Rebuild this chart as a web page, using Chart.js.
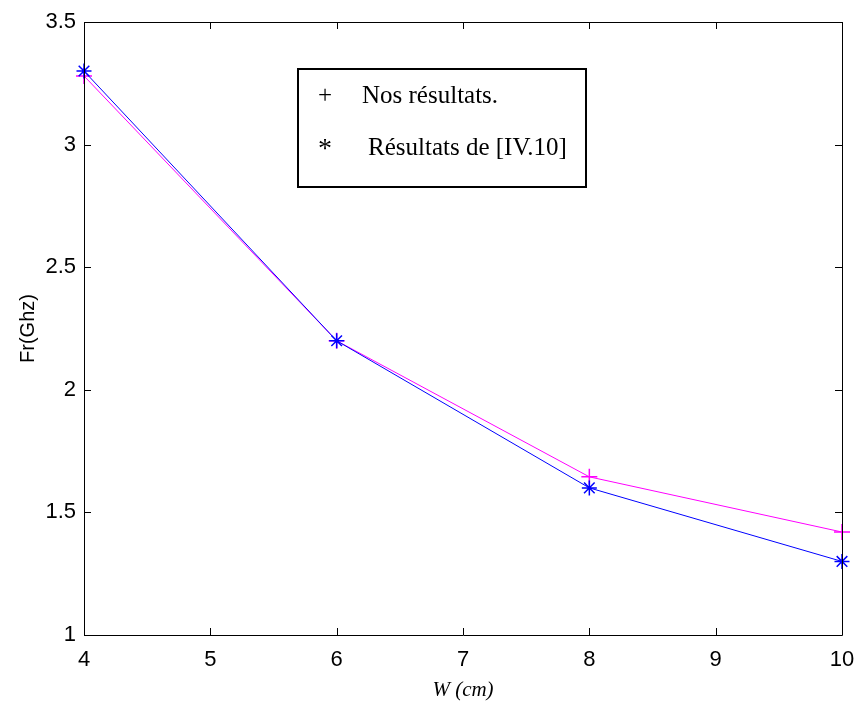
<!DOCTYPE html>
<html>
<head>
<meta charset="utf-8">
<script src="https://cdn.jsdelivr.net/npm/chart.js@4"></script>
<style>
  html, body { margin: 0; padding: 0; background: #fff; }
</style>
</head>
<body>
<canvas id="chart" width="859" height="709"></canvas>
<script>
// W (cm) and resonant frequency Fr (GHz)
const widths = [4, 6, 8, 10];
const ourResults = [3.28, 2.2, 1.645, 1.42];
const refResults = [3.3, 2.2, 1.6, 1.3];
const xTicks = [4, 5, 6, 7, 8, 9, 10];
const yTicks = [1, 1.5, 2, 2.5, 3, 3.5];
const legendLabels = ["Nos résultats.", "Résultats de [IV.10]"];
const legendMarks = ["+", "*"];

const toPoints = (vals) => widths.map((w, i) => ({ x: w, y: vals[i] }));

// Box around the plot with inward ticks on all four sides
const frameTicks = {
  id: "frameTicks",
  afterDraw(chart) {
    const { ctx, chartArea, scales } = chart;
    const { left, right, top, bottom } = chartArea;
    const len = 7;
    ctx.save();
    ctx.strokeStyle = "#000";
    ctx.lineWidth = 1;
    ctx.beginPath();
    ctx.rect(left + 0.5, top + 0.5, right - left, bottom - top);
    xTicks.forEach((v) => {
      const px = Math.round(scales.x.getPixelForValue(v)) + 0.5;
      ctx.moveTo(px, bottom);
      ctx.lineTo(px, bottom - len);
      ctx.moveTo(px, top);
      ctx.lineTo(px, top + len);
    });
    yTicks.forEach((v) => {
      const py = Math.round(scales.y.getPixelForValue(v)) + 0.5;
      ctx.moveTo(left, py);
      ctx.lineTo(left + len, py);
      ctx.moveTo(right, py);
      ctx.lineTo(right - len, py);
    });
    ctx.stroke();
    ctx.restore();
  },
};

// Old style boxed legend with black marker characters
const boxLegend = {
  id: "boxLegend",
  afterDraw(chart) {
    const { ctx } = chart;
    const bx = 298, by = 69, bw = 288, bh = 118;
    ctx.save();
    ctx.fillStyle = "#fff";
    ctx.fillRect(bx, by, bw, bh);
    ctx.strokeStyle = "#000";
    ctx.lineWidth = 2;
    ctx.strokeRect(bx, by, bw, bh);
    ctx.fillStyle = "#000";
    ctx.textBaseline = "middle";
    const rows = [96, 148];
    const textX = [362, 368];
    legendLabels.forEach((label, i) => {
      ctx.font = (i === 1 ? "28px" : "25px") + " 'Liberation Serif', 'Times New Roman', serif";
      ctx.textAlign = "center";
      ctx.fillText(legendMarks[i], 325, rows[i] + (i === 1 ? 2 : 0));
      ctx.font = "25px 'Liberation Serif', 'Times New Roman', serif";
      ctx.textAlign = "left";
      ctx.fillText(label, textX[i], rows[i]);
    });
    ctx.restore();
  },
};

const tickFont = { family: "'Liberation Sans', Arial, sans-serif", size: 22 };

new Chart(document.getElementById("chart"), {
  type: "scatter",
  data: {
    datasets: [
      {
        label: legendLabels[0],
        data: toPoints(ourResults),
        showLine: true,
        borderColor: "#ff00ff",
        borderWidth: 1,
        pointStyle: "cross",
        pointRadius: 8,
        pointBorderColor: "#ff00ff",
        pointBorderWidth: 1.5,
        order: 2,
      },
      {
        label: legendLabels[1],
        data: toPoints(refResults),
        showLine: true,
        borderColor: "#0000ff",
        borderWidth: 1,
        pointStyle: "star",
        pointRadius: 7.5,
        pointBorderColor: "#0000ff",
        pointBorderWidth: 1.5,
        order: 1,
      },
    ],
  },
  options: {
    responsive: false,
    animation: false,
    clip: false,
    layout: { padding: { top: 22, right: 17, left: 0, bottom: 0 } },
    plugins: {
      legend: { display: false },
      tooltip: { enabled: false },
    },
    scales: {
      x: {
        type: "linear",
        min: 4,
        max: 10,
        afterBuildTicks: (scale) => {
          scale.ticks = xTicks.map((v) => ({ value: v }));
        },
        afterFit: (scale) => {
          scale.height = 74;
          scale.paddingLeft = 0;
          scale.paddingRight = 0;
        },
        grid: { display: false, drawTicks: false },
        border: { display: false },
        ticks: { color: "#000", font: tickFont, padding: 12, maxRotation: 0, callback: (v) => String(v) },
        title: {
          display: true,
          text: "W (cm)",
          color: "#000",
          font: { family: "'Liberation Serif', 'Times New Roman', serif", size: 21, style: "italic" },
          padding: { top: 0, bottom: 6 },
        },
      },
      y: {
        type: "linear",
        min: 1,
        max: 3.5,
        afterBuildTicks: (scale) => {
          scale.ticks = yTicks.map((v) => ({ value: v }));
        },
        afterFit: (scale) => {
          scale.width = 84;
          scale.paddingTop = 0;
          scale.paddingBottom = 0;
        },
        grid: { display: false, drawTicks: false },
        border: { display: false },
        ticks: { color: "#000", font: tickFont, padding: 8, callback: (v) => String(v) },
        title: {
          display: true,
          text: "Fr(Ghz)",
          color: "#000",
          font: { family: "'Liberation Sans', Arial, sans-serif", size: 20 },
          padding: { top: 16, bottom: 0 },
        },
      },
    },
  },
  plugins: [frameTicks, boxLegend],
});
</script>
</body>
</html>
